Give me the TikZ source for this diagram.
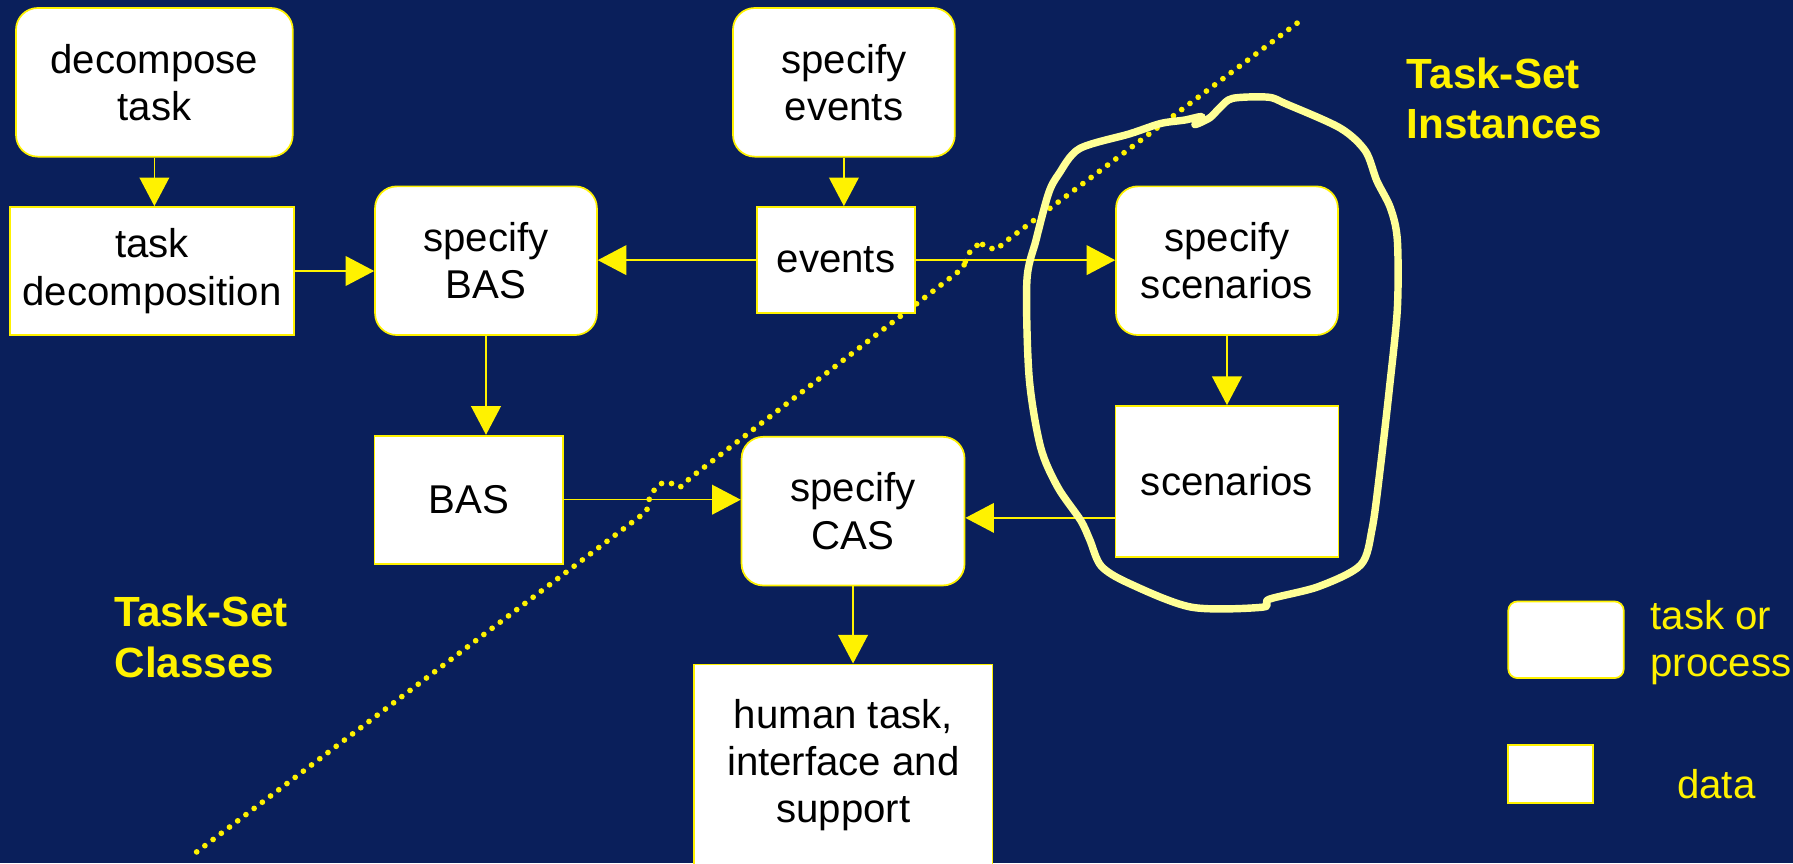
\documentclass[tikz,border=0pt]{standalone}
\usepackage{fontspec}
\setmainfont{Liberation Sans}
\usetikzlibrary{arrows.meta}
\definecolor{navy}{RGB}{10,31,91}
\definecolor{paleyellow}{RGB}{255,255,150}
\newcommand{\boxfont}{\fontsize{20}{23.5}\selectfont}
\newcommand{\labelfont}{\fontsize{21}{25}\selectfont\bfseries}

\begin{document}
\begin{tikzpicture}[x=0.2mm,y=-0.2mm,
	taskbox/.style={draw=yellow, line width=0.3mm, fill=white, rounded corners=3.8mm, inner sep=0pt, align=center, font=\boxfont},
	databox/.style={draw=yellow, line width=0.3mm, fill=white, inner sep=0pt, align=center, font=\boxfont},
	flow/.style={yellow, line width=0.25mm, -{Triangle[length=5mm,width=5.2mm]}},
	divider/.style={yellow, line width=1mm, line cap=round, dash pattern=on 0pt off 1.8mm},
	setlabel/.style={anchor=west, align=left, inner sep=0pt, text=yellow, font=\labelfont}]
	\useasboundingbox (0,0) rectangle (1568,755);
	\fill [navy] (0,0) rectangle (1568,755);

	% boundary between classes and instances
	\draw [divider, rounded corners=1mm] (172,745) -- (567,446) -- (567,436) -- (576,423) -- (586,421) -- (594,428) -- (601,420)
		-- (844,233) -- (844,226) -- (853,214) -- (861,213) -- (870,220) -- (877,213) -- (1140,16);

	\node [taskbox, minimum width=48.4mm, minimum height=26mm] (dtask) at (135,72) {decompose\\task};
	\node [databox, minimum width=49.6mm, minimum height=22.4mm] (tdec) at (133,237) {task\\decomposition};
	\node [taskbox, minimum width=38.8mm, minimum height=26mm] (sbas) at (425,228) {specify\\BAS};
	\node [taskbox, minimum width=38.8mm, minimum height=26mm] (sevents) at (738,72) {specify\\events};
	\node [databox, minimum width=27.6mm, minimum height=18.6mm] (events) at (731,227.5) {events};
	\node [taskbox, minimum width=38.8mm, minimum height=26mm] (sscen) at (1073,228) {specify\\scenarios};
	\node [databox, minimum width=33mm, minimum height=22.4mm] (bas) at (410,437) {BAS};
	\node [taskbox, minimum width=39mm, minimum height=26mm] (scas) at (746,447) {specify\\CAS};
	\node [databox, minimum width=39mm, minimum height=26.4mm] (scen) at (1073,421) {scenarios};
	\node [databox, minimum width=52.2mm, minimum height=35.2mm] (human) at (737.5,669) {human task,\\interface and\\support};

	\draw [flow] (dtask.south) -- (dtask.south |- tdec.north);
	\draw [flow] (tdec.east) -- (sbas.west |- tdec.east);
	\draw [flow] (events.west) -- (sbas.east |- events.west);
	\draw [flow] (events.east) -- (sscen.west |- events.east);
	\draw [flow] (sevents.south) -- (sevents.south |- events.north);
	\draw [flow] (sbas.south) -- (sbas.south |- bas.north);
	\draw [flow] (bas.east) -- (scas.west |- bas.east);
	\draw [flow] (sscen.south) -- (scen.north);
	\draw [flow] (scen.-162) -- (scas.east |- scen.-162);
	\draw [flow] (scas.south) -- (scas.south |- human.north);

	% hand drawn loop round the instances
	\draw [paleyellow, line width=1.3mm, line join=round] plot [smooth cycle, tension=0.5] coordinates {
		(944,130) (988,117) (1015,108) (1036,105) (1051,102) (1045,109) (1058,103) (1067,94) (1078,86) (1109,85)
		(1125,91) (1172,112) (1194,132) (1204,158) (1216,182) (1222,210) (1222,270) (1215,340) (1207,410)
		(1200,462) (1190,494) (1153,513) (1110,524) (1104,531) (1042,531) (987,510) (963,495) (953,472)
		(945,455) (925,426) (910,391) (900,330) (898,246) (906,210) (917,169) (926,152)};

	\node [setlabel] (instances) at (1230,86) {Task-Set\\Instances};
	\node [setlabel] (classes) at (100,557) {Task-Set\\Classes};

	% legend
	\node [taskbox, rounded corners=1.6mm, minimum width=20.2mm, minimum height=13.4mm] (lproc) at (1369.5,559.5) {};
	\node [anchor=west, align=left, inner sep=0pt, text=yellow, font=\boxfont] (lproctext) at (1443,562) {task or\\process};
	\node [databox, minimum width=14.8mm, minimum height=10.2mm] (ldata) at (1356,677) {};
	\node [inner sep=0pt, text=yellow, font=\boxfont] (ldatatext) at (1501,686) {data};
\end{tikzpicture}
\end{document}
